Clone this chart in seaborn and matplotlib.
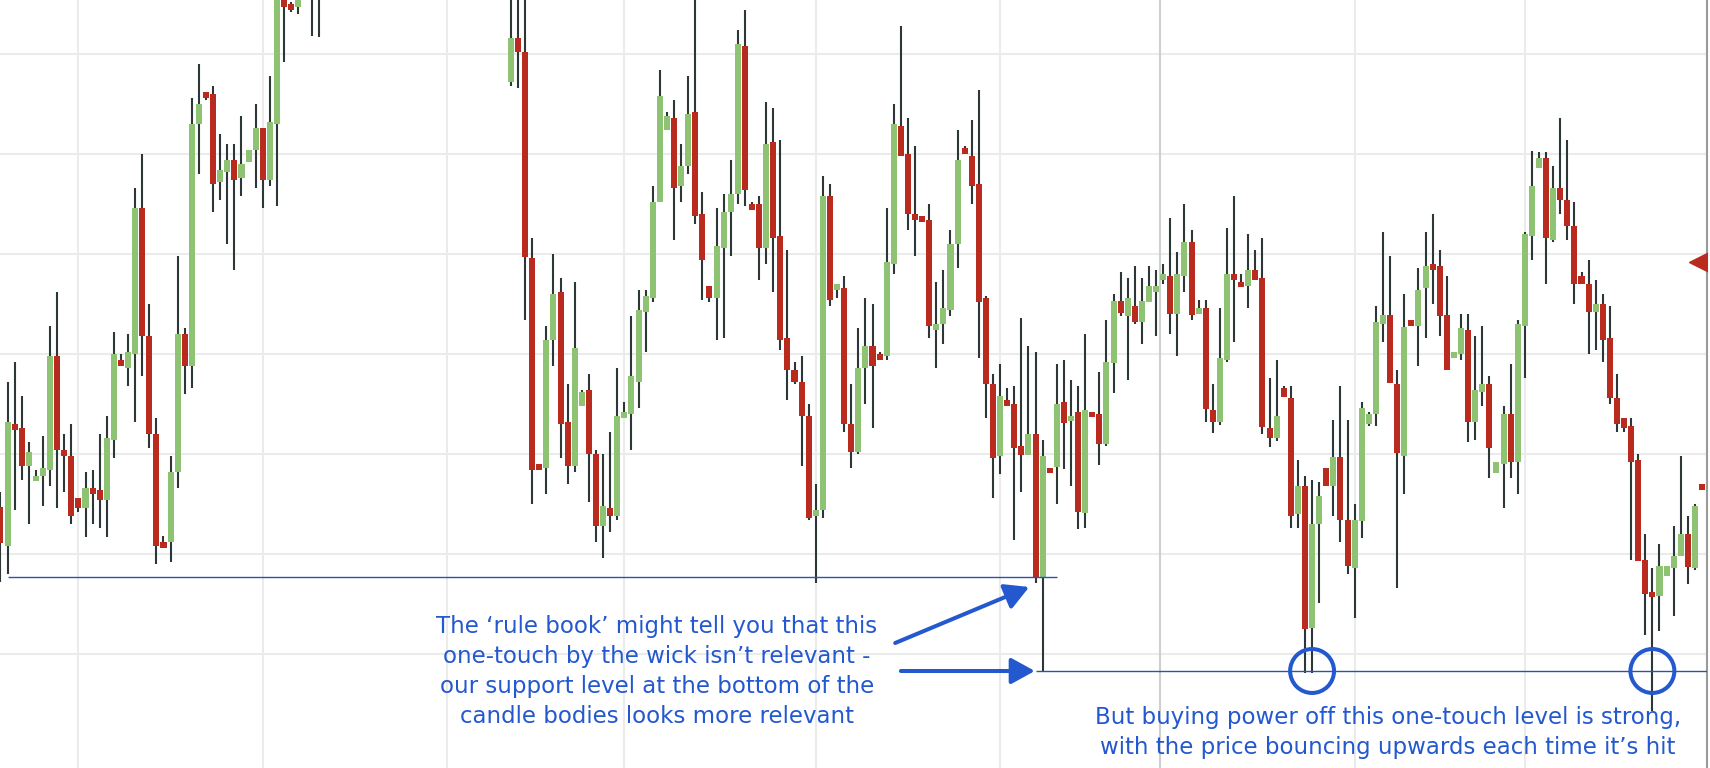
import numpy as np
import matplotlib
matplotlib.use("Agg")
import matplotlib.pyplot as plt
import seaborn as sns

sns.set_style("white")
plt.rcParams['font.family'] = ['DejaVu Sans']

nan = np.nan
HID = [nan] * 26  # candles 46-71 lie above the visible price window

open_ = ([247, 208, 330, 326, 288, 273, 278, 284, 398, 304,
          298, 256, 246, 266, 264, 254, 314, 394, 386, 400,
          546, 418, 320, 212, 212, 282, 420, 388, 630, 662,
          660, 572, 582, 594, 576, 592, 604, 626, 574, 630,
          764, 750, 747, nan, 769, 774] + HID +
         [672, 716, 702, 496, 290, 286, 414, 462, 332, 288,
          348, 364, 300, 228, 246, 238, 336, 340, 372, 442,
          456, 552, 624, 636, 568, 588, 642, 540, 468, 456,
          506, 542, 560, 708, 550, 550, 506, 612, 518, 416,
          384, 372, 338, 238, 244, 558, 464, 466, 330, 302,
          386, 408, 400, 398, 490, 628, 600, 540, 538, 534,
          424, 430, 444, 510, 606, 598, 570, 456, 370, 298,
          354, 350, 308, 299, 320, 177, 286, 287, 352, 333,
          342, 241, 342, 340, 310, 391, 453, 438, 448, 432,
          452, 462, 474, 478, 440, 478, 512, 440, 446, 344,
          332, 394, 480, 472, 468, 484, 476, 326, 316, 366,
          356, 240, 268, 126, 230, 286, 268, 297, 234, 186,
          233, 330, 340, 430, 439, 370, 298, 434, 428, 466,
          490, 488, 439, 396, 400, 424, 332, 362, 370, 281,
          290, 340, 292, 428, 518, 586, 596, 514, 566, 554,
          528, 478, 470, 442, 450, 416, 356, 336, 328, 294,
          194, 162, 158, 178, 186, 198, 220, 186, 270])

high = ([262, 372, 392, 358, 312, 284, 318, 428, 462, 320,
         330, 256, 282, 284, 320, 338, 422, 400, 420, 566,
         600, 450, 336, 218, 298, 498, 426, 656, 690, 662,
         668, 620, 610, 610, 638, 604, 650, 626, 678, 779,
         774, 752, 769, nan, 814, 819] + HID +
        [769, 769, 769, 516, 290, 428, 500, 476, 370, 472,
         364, 380, 304, 300, 322, 386, 352, 438, 464, 464,
         568, 684, 642, 654, 610, 678, 769, 562, 468, 546,
         560, 594, 724, 744, 552, 558, 652, 646, 614, 504,
         392, 398, 350, 270, 578, 570, 470, 478, 370, 426,
         456, 450, 402, 546, 650, 728, 636, 608, 538, 550,
         472, 484, 524, 624, 608, 634, 664, 458, 380, 390,
         366, 368, 436, 408, 402, 314, 286, 390, 394, 374,
         368, 420, 342, 382, 434, 460, 482, 476, 488, 476,
         488, 484, 490, 536, 502, 550, 524, 454, 454, 370,
         446, 526, 558, 480, 520, 504, 516, 376, 394, 368,
         368, 294, 278, 274, 272, 286, 334, 368, 334, 250,
         352, 342, 448, 522, 498, 384, 460, 434, 486, 522,
         540, 504, 478, 402, 440, 440, 418, 428, 378, 292,
         348, 390, 434, 522, 603, 602, 602, 588, 636, 614,
         552, 482, 494, 474, 460, 448, 380, 336, 336, 300,
         220, 186, 210, 188, 228, 298, 238, 250, 270])

low = ([172, 180, 244, 274, 230, 273, 248, 268, 246, 262,
        230, 242, 217, 230, 226, 217, 296, 388, 368, 332,
        378, 306, 190, 206, 192, 266, 360, 366, 580, 654,
        542, 554, 510, 484, 558, 592, 566, 546, 568, 548,
        692, 742, 740, nan, 718, 717] + HID +
       [668, 666, 434, 250, 284, 260, 388, 296, 270, 282,
        348, 252, 212, 196, 222, 234, 336, 304, 346, 402,
        452, 552, 624, 514, 552, 580, 530, 454, 452, 414,
        416, 498, 550, 548, 544, 474, 490, 462, 404, 354,
        370, 288, 234, 171, 236, 448, 456, 322, 286, 300,
        350, 326, 394, 394, 480, 598, 524, 498, 532, 416,
        386, 410, 438, 486, 600, 550, 396, 336, 256, 280,
        348, 214, 262, 299, 171, 83, 281, 250, 285, 268,
        225, 226, 337, 289, 308, 361, 438, 374, 430, 410,
        452, 418, 470, 420, 398, 462, 434, 440, 332, 321,
        329, 392, 412, 467, 446, 474, 320, 307, 313, 357,
        226, 226, 81, 81, 151, 268, 238, 212, 180, 136,
        216, 328, 328, 412, 371, 166, 260, 428, 388, 416,
        450, 418, 384, 396, 394, 312, 314, 348, 276, 281,
        246, 276, 260, 376, 494, 586, 470, 512, 540, 514,
        450, 470, 400, 404, 392, 350, 322, 322, 194, 193,
        119, 43, 123, 178, 138, 198, 170, 184, 264])

close = ([211, 332, 324, 288, 302, 278, 286, 398, 304, 298,
          238, 246, 266, 260, 254, 316, 400, 388, 402, 546,
          418, 320, 208, 206, 282, 420, 388, 630, 650, 656,
          570, 584, 594, 574, 590, 604, 626, 574, 632, 769,
          747, 744, 759, nan, 794, 799] + HID +
         [716, 702, 497, 284, 284, 414, 460, 330, 288, 406,
          362, 300, 228, 248, 238, 338, 342, 378, 444, 458,
          552, 658, 638, 566, 588, 640, 538, 494, 456, 508,
          542, 560, 710, 564, 544, 506, 610, 516, 414, 384,
          372, 338, 236, 244, 558, 454, 470, 330, 302, 386,
          408, 388, 394, 492, 630, 598, 540, 534, 532, 428,
          430, 446, 510, 594, 600, 568, 452, 370, 296, 358,
          348, 306, 299, 320, 177, 298, 281, 350, 331, 338,
          242, 344, 337, 310, 392, 453, 441, 456, 432, 453,
          468, 468, 480, 440, 480, 512, 439, 446, 345, 332,
          396, 480, 474, 467, 484, 474, 327, 316, 338, 357,
          238, 268, 125, 230, 258, 268, 297, 234, 188, 234,
          346, 340, 432, 439, 371, 301, 427, 428, 464, 488,
          484, 438, 384, 402, 426, 332, 364, 370, 306, 292,
          340, 292, 430, 520, 568, 596, 516, 566, 554, 528,
          470, 470, 442, 450, 414, 356, 330, 326, 292, 193,
          160, 157, 188, 188, 198, 220, 187, 248, 264])

# annotation levels
body_support = 177          # level at the bottom of the candle bodies
body_support_span = (1, 149)
wick_support = 83           # one-touch wick level
wick_support_start = 146
touch_candles = [185, 233]
marker_price = 492          # price marker on right axis
month_lines = [11, 37, 63, 88, 115, 141, 191, 215]
session_line = 163.5
price_grid = [100, 200, 300, 400, 500, 600, 700]

note_left = ("The \u2018rule book\u2019 might tell you that this\n"
             "one-touch by the wick isn\u2019t relevant -\n"
             "our support level at the bottom of the\n"
             "candle bodies looks more relevant")
note_right = ("But buying power off this one-touch level is strong,\n"
              "with the price bouncing upwards each time it\u2019s hit")

GREEN = "#8DC373"
RED = "#B82B1E"
WICK = "#2D3737"
LINEBLUE = "#2A52AE"
BLUE = "#2358CF"

o = np.array(open_, float)
h = np.array(high, float)
l = np.array(low, float)
c = np.array(close, float)
idx = np.arange(len(o))
valid = ~np.isnan(o)
cols = np.where(c >= o, GREEN, RED)

fig = plt.figure(figsize=(17.1, 7.68), dpi=100)
ax = fig.add_axes([0, 0, 1707 / 1710, 1])

ax.vlines(idx[valid], l[valid], h[valid], color=WICK, lw=1.5, zorder=2)
ax.bar(idx[valid], (c - o)[valid], bottom=o[valid], width=0.85,
       color=cols[valid], linewidth=0, zorder=3)

ax.set_xlim(-0.06, 240.7)
ax.set_ylim(-14, 754)
ax.set_xticks(month_lines)
ax.set_yticks(price_grid)
ax.grid(True, color="#EBEBEB", lw=1.5)
ax.set_axisbelow(True)
ax.axvline(session_line, color="#CFCFCF", lw=1.5, zorder=1)
ax.tick_params(left=False, bottom=False, labelleft=False, labelbottom=False)
for s in ["top", "left", "bottom"]:
    ax.spines[s].set_visible(False)
ax.spines["right"].set_color("#9A9A9A")
ax.spines["right"].set_linewidth(1.5)

ax.hlines(body_support, body_support_span[0], body_support_span[1],
          color=LINEBLUE, lw=1.0, zorder=4)
ax.hlines(wick_support, wick_support_start, 241, color=LINEBLUE, lw=1.0, zorder=4)

sns.scatterplot(x=touch_candles, y=[wick_support] * len(touch_candles), ax=ax,
                s=1000, marker="o", facecolor="none", edgecolor=BLUE,
                linewidth=2.9, zorder=6, legend=False)

ax.plot([240.3], [marker_price], marker="<", markersize=21.6, color=RED,
        linestyle="none", zorder=7, clip_on=True)

arrow = dict(arrowstyle="-|>,head_length=0.4,head_width=0.22", color=BLUE,
             lw=2.9, mutation_scale=36, shrinkA=0, shrinkB=0)
ax.annotate("", xy=(145.1, 167), xytext=(126.2, 111), arrowprops=arrow, zorder=8)
ax.annotate("", xy=(145.9, wick_support), xytext=(127.0, wick_support),
            arrowprops=arrow, zorder=8)

ax.text(92.6, 82.5, note_left, ha="center", va="center", color=BLUE,
        fontsize=16.5, linespacing=1.4, zorder=9)
ax.text(195.7, 21.5, note_right, ha="center", va="center", color=BLUE,
        fontsize=16.5, linespacing=1.4, zorder=9)

fig.savefig("out.png", dpi=100)
